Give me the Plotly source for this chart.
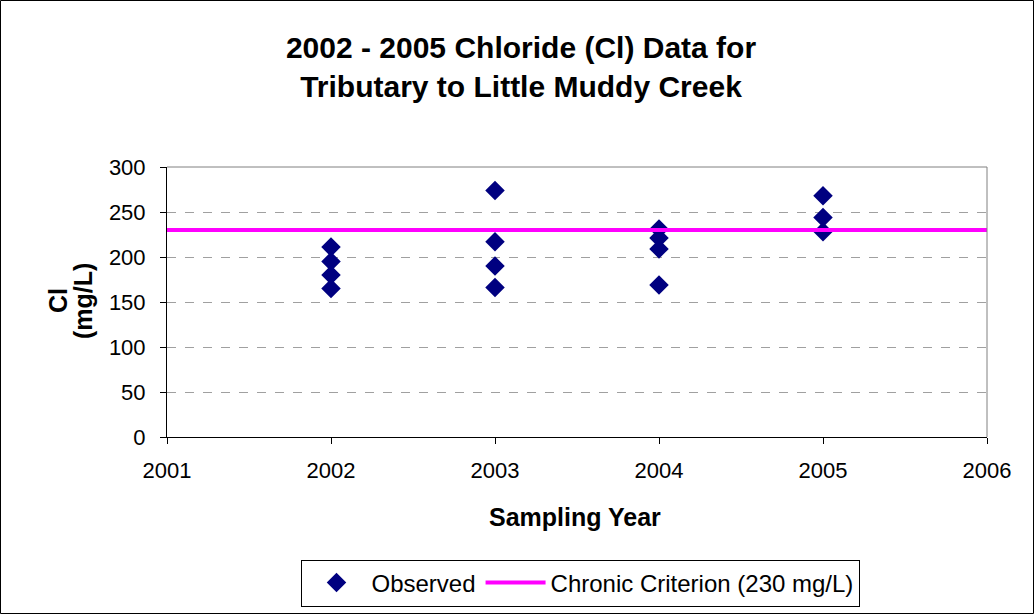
import plotly.graph_objects as go

years_2002 = [2002, 2002, 2002, 2002]
cl_2002 = [211, 195, 180, 165]
years_2003 = [2003, 2003, 2003, 2003]
cl_2003 = [274, 217, 190, 166]
years_2004 = [2004, 2004, 2004, 2004]
cl_2004 = [231, 221, 209, 169]
years_2005 = [2005, 2005, 2005]
cl_2005 = [268, 244, 228]

criterion_x = [2001, 2006]
criterion_y = [230, 230]

x_ticks = [2001, 2002, 2003, 2004, 2005, 2006]
y_ticks = [0, 50, 100, 150, 200, 250, 300]

obs_x = years_2002 + years_2003 + years_2004 + years_2005
obs_y = cl_2002 + cl_2003 + cl_2004 + cl_2005

FONT = "Liberation Sans, Arial, sans-serif"

fig = go.Figure()
fig.add_trace(go.Scatter(
    x=obs_x, y=obs_y, mode="markers", name="Observed",
    marker=dict(symbol="diamond", size=15, color="#000080"),
))
fig.add_trace(go.Scatter(
    x=criterion_x, y=criterion_y, mode="lines", name="Chronic Criterion (230 mg/L)",
    line=dict(color="#FF00FF", width=4),
))

L, R, T, B = 167, 47, 167, 177
W, H = 1034, 614
pw, ph = W - L - R, H - T - B

fig.update_layout(
    width=W, height=H,
    margin=dict(l=L, r=R, t=T, b=B, autoexpand=False),
    paper_bgcolor="white", plot_bgcolor="white",
    font=dict(family=FONT, size=22, color="black"),
    title=dict(
        text="2002 - 2005 Chloride (Cl) Data for<br>Tributary to Little Muddy Creek",
        x=521 / W, xanchor="center", y=1 - 58 / H, yanchor="middle",
        font=dict(family=FONT, size=30, color="black", weight="bold"),
    ),
    showlegend=True,
    legend=dict(
        orientation="h", x=(580 - L) / pw, xanchor="center",
        y=-(583 - 437) / ph, yanchor="middle",
        bordercolor="black", borderwidth=1, bgcolor="white",
        font=dict(family=FONT, size=24),
        itemwidth=60,
    ),
    xaxis=dict(
        range=[2001, 2006], tickvals=x_ticks, ticktext=[str(v) for v in x_ticks],
        showgrid=False, zeroline=False,
        showline=True, linecolor="black", linewidth=1, mirror=False,
        ticks="outside", ticklen=6, tickcolor="black",
        ticklabelstandoff=8,
        tickfont=dict(family=FONT, size=22),
    ),
    yaxis=dict(
        range=[0, 300], tickvals=y_ticks,
        showgrid=True, gridcolor="#a0a0a0", griddash="dash", gridwidth=1,
        zeroline=False,
        showline=True, linecolor="black", linewidth=1,
        ticks="outside", ticklen=6, tickcolor="black",
        ticklabelstandoff=10,
        tickfont=dict(family=FONT, size=22),
    ),
)

# plot area top/right border (gray)
fig.add_shape(type="line", xref="paper", yref="paper", x0=0, x1=1, y0=1, y1=1,
              line=dict(color="#808080", width=1))
fig.add_shape(type="line", xref="paper", yref="paper", x0=1, x1=1, y0=0, y1=1,
              line=dict(color="#808080", width=1))
# outer chart border
fig.add_shape(type="rect", xref="paper", yref="paper",
              x0=-(L - 0.5) / pw, x1=(W - 0.5 - L) / pw,
              y0=-(H - 0.5 - (T + ph)) / ph, y1=(T + ph - 0.5) / ph,
              line=dict(color="black", width=1))

# axis titles
fig.add_annotation(text="Cl", xref="paper", yref="paper",
                   x=-(L - 58) / pw, y=(437 - 301) / ph, xanchor="center", yanchor="middle",
                   textangle=-90, showarrow=False,
                   font=dict(family=FONT, size=25, color="black", weight="bold"))
fig.add_annotation(text="(mg/L)", xref="paper", yref="paper",
                   x=-(L - 83) / pw, y=(437 - 301) / ph, xanchor="center", yanchor="middle",
                   textangle=-90, showarrow=False,
                   font=dict(family=FONT, size=25, color="black", weight="bold"))
fig.add_annotation(text="Sampling Year", xref="paper", yref="paper",
                   x=(575 - L) / pw, y=-(517 - 437) / ph, xanchor="center", yanchor="middle",
                   showarrow=False,
                   font=dict(family=FONT, size=25, color="black", weight="bold"))

fig.write_html("out.html", config={"displayModeBar": False},
               post_script="document.body.style.margin='0';")
